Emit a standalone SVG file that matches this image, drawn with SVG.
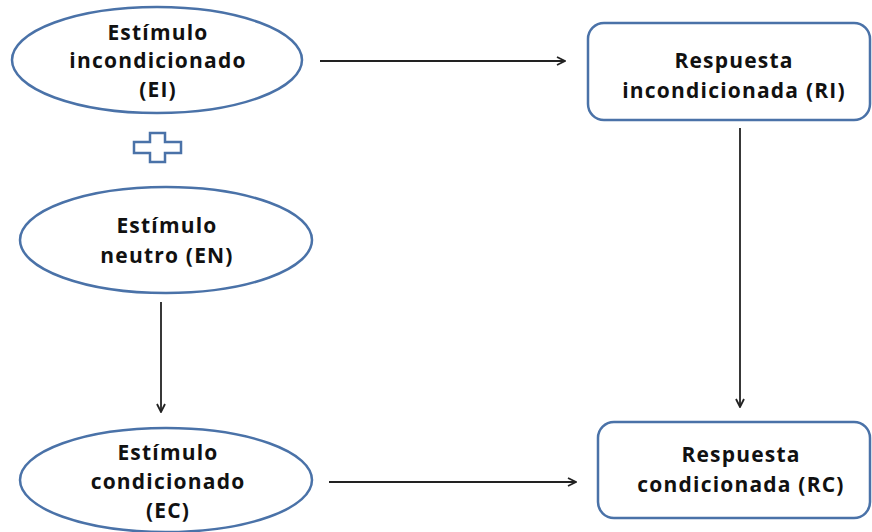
<svg xmlns="http://www.w3.org/2000/svg" width="872" height="532" viewBox="0 0 872 532">
<defs>
<style>
.node{fill:#fff;stroke:#4a72a8;stroke-width:2.5}
.t{font-family:"Open Sans","Liberation Sans",sans-serif;font-weight:bold;font-size:21px;letter-spacing:1.2px;fill:#111;text-anchor:middle}
.c{stroke:#222;stroke-width:1.8;fill:none;marker-end:url(#ah)}
</style>
<marker id="ah" viewBox="0 0 10 10" refX="9" refY="5" markerWidth="10" markerHeight="10" markerUnits="userSpaceOnUse" orient="auto">
<path d="M1,1 L9,5 L1,9" fill="none" stroke="#222" stroke-width="1.8"/>
</marker>
</defs>
<rect width="872" height="532" fill="#fff"/>
<g id="connectors">
<line class="c" x1="320" y1="61" x2="565" y2="61"/>
<line class="c" x1="740" y1="128" x2="740" y2="407"/>
<line class="c" x1="161" y1="302" x2="161" y2="412"/>
<line class="c" x1="329" y1="482" x2="576" y2="482"/>
</g>
<g id="ei">
<ellipse class="node" cx="157" cy="60" rx="145" ry="53"/>
<text class="t" x="158" y="40">Estímulo</text>
<text class="t" x="158" y="68">incondicionado</text>
<text class="t" x="158" y="97">(EI)</text>
</g>
<g id="plus">
<path class="node" stroke-width="2" d="M150,133 H165 V142 H181 V153 H165 V162 H150 V153 H134 V142 H150 Z"/>
</g>
<g id="en">
<ellipse class="node" cx="166" cy="240" rx="146" ry="53"/>
<text class="t" x="167" y="233">Estímulo</text>
<text class="t" x="167" y="263">neutro (EN)</text>
</g>
<g id="ec">
<ellipse class="node" cx="166" cy="480" rx="146" ry="52"/>
<text class="t" x="168" y="460">Estímulo</text>
<text class="t" x="168" y="489">condicionado</text>
<text class="t" x="168" y="518">(EC)</text>
</g>
<g id="ri">
<rect class="node" x="588" y="23" width="282" height="97" rx="16"/>
<text class="t" x="734" y="68">Respuesta</text>
<text class="t" x="734" y="98">incondicionada (RI)</text>
</g>
<g id="rc">
<rect class="node" x="598" y="422" width="272" height="96" rx="16"/>
<text class="t" x="741" y="462">Respuesta</text>
<text class="t" x="741" y="492">condicionada (RC)</text>
</g>
</svg>
